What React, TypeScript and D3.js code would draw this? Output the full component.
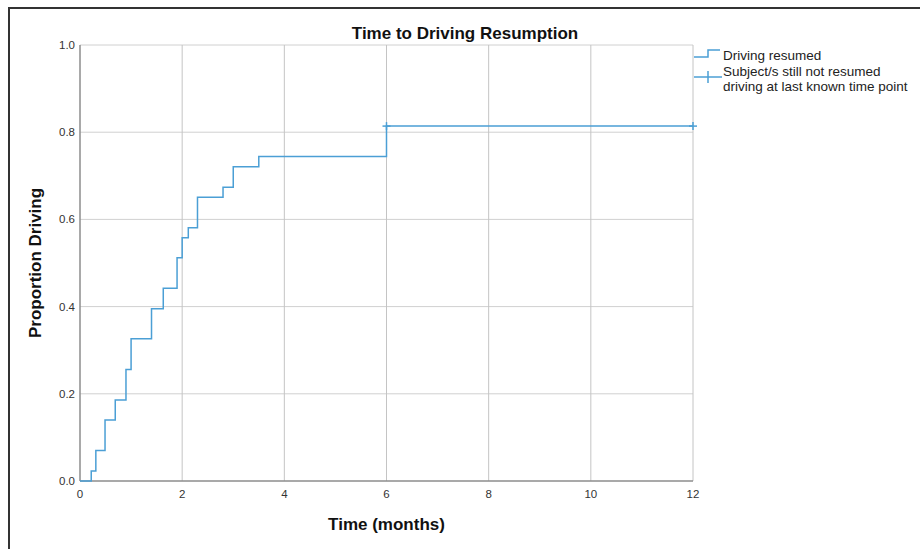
import React from 'react';
import * as d3 from 'd3';

// Kaplan-Meier step points (months, proportion driving)
const times = [0, 0.22, 0.31, 0.49, 0.69, 0.9, 1.0, 1.4, 1.63, 1.9, 2.0, 2.12, 2.3, 2.8, 3.0, 3.5, 6.0, 12];
const proportions = [0, 0.023, 0.07, 0.14, 0.186, 0.256, 0.326, 0.395, 0.442, 0.512, 0.558, 0.581, 0.651, 0.674, 0.721, 0.744, 0.814, 0.814];
const censorTimes = [6, 12];
const censorValues = [0.814, 0.814];
const xTicks = [0, 2, 4, 6, 8, 10, 12];
const yTicks = [0, 0.2, 0.4, 0.6, 0.8, 1.0];
const legendLabels = ['Driving resumed', 'Subject/s still not resumed', 'driving at last known time point'];

const width = 920,
  height = 549;
const margin = { left: 80, right: 227, top: 45, bottom: 68 };
const font = '"Liberation Sans", Arial, sans-serif';
const lineColor = '#4b9fd5';

export default function App() {
  const x = d3.scaleLinear().domain([0, 12]).range([margin.left, width - margin.right]);
  const y = d3.scaleLinear().domain([0, 1]).range([height - margin.bottom, margin.top]);

  const pts: [number, number][] = times.map((t, i) => [t, proportions[i]]);
  const line = d3
    .line<[number, number]>()
    .x((d) => x(d[0]))
    .y((d) => y(d[1]))
    .curve(d3.curveStepAfter);

  const x0 = x(0),
    x1 = x(12),
    y0 = y(0),
    y1 = y(1);

  return (
    <svg width={width} height={height} style={{ position: 'absolute', left: 0, top: 0 }} fontFamily={font}>
      <rect x={0} y={0} width={width} height={height} fill="#fff" />
      <rect x={9} y={8} width={1000} height={1000} fill="none" stroke="#333" strokeWidth={2} />

      {/* grid */}
      {yTicks.slice(1).map((t) => (
        <line key={'gy' + t} x1={x0} x2={x1} y1={y(t)} y2={y(t)} stroke="#d0d0d0" strokeWidth={1} />
      ))}
      {xTicks.slice(1).map((t) => (
        <line key={'gx' + t} x1={x(t)} x2={x(t)} y1={y1} y2={y0} stroke="#c4c4c4" strokeWidth={1} />
      ))}

      {/* axes */}
      <line x1={x0} x2={x0} y1={y1} y2={y0} stroke="#8c8c8c" strokeWidth={1.5} />
      <line x1={x0} x2={x1} y1={y0} y2={y0} stroke="#8c8c8c" strokeWidth={1.5} />

      {yTicks.map((t) => (
        <text key={'ty' + t} x={x0 - 5} y={y(t) + 4} textAnchor="end" fontSize={11.5} fill="#333">
          {t.toFixed(1)}
        </text>
      ))}
      {xTicks.map((t) => (
        <text key={'tx' + t} x={x(t)} y={y0 + 17} textAnchor="middle" fontSize={11.5} fill="#333">
          {t}
        </text>
      ))}

      {/* survival curve */}
      <path d={line(pts) || ''} fill="none" stroke={lineColor} strokeWidth={1.5} />
      {censorTimes.map((t, i) => (
        <g key={'c' + t}>
          <line x1={x(t)} x2={x(t)} y1={y(censorValues[i]) - 4} y2={y(censorValues[i]) + 4} stroke={lineColor} strokeWidth={1.5} />
          <line x1={x(t) - 4} x2={x(t) + 4} y1={y(censorValues[i])} y2={y(censorValues[i])} stroke={lineColor} strokeWidth={1.5} />
        </g>
      ))}

      {/* titles */}
      <text x={465} y={39} textAnchor="middle" fontSize={17} fontWeight="bold" fill="#111">
        Time to Driving Resumption
      </text>
      <text x={(x0 + x1) / 2} y={530} textAnchor="middle" fontSize={17} fontWeight="bold" fill="#111">
        Time (months)
      </text>
      <text
        transform={`translate(41, ${(y0 + y1) / 2}) rotate(-90)`}
        textAnchor="middle"
        fontSize={17}
        fontWeight="bold"
        fill="#111"
      >
        Proportion Driving
      </text>

      {/* legend */}
      <path d="M694,57H708V50H720" fill="none" stroke={lineColor} strokeWidth={1.5} />
      <line x1={694} x2={722} y1={77} y2={77} stroke={lineColor} strokeWidth={1.5} />
      <line x1={708} x2={708} y1={71} y2={83} stroke={lineColor} strokeWidth={1.5} />
      <text x={723} y={60} fontSize={13.5} fill="#222">
        {legendLabels[0]}
      </text>
      <text x={723} y={76} fontSize={13.5} fill="#222">
        {legendLabels[1]}
      </text>
      <text x={723} y={91} fontSize={13.5} fill="#222">
        {legendLabels[2]}
      </text>
    </svg>
  );
}
